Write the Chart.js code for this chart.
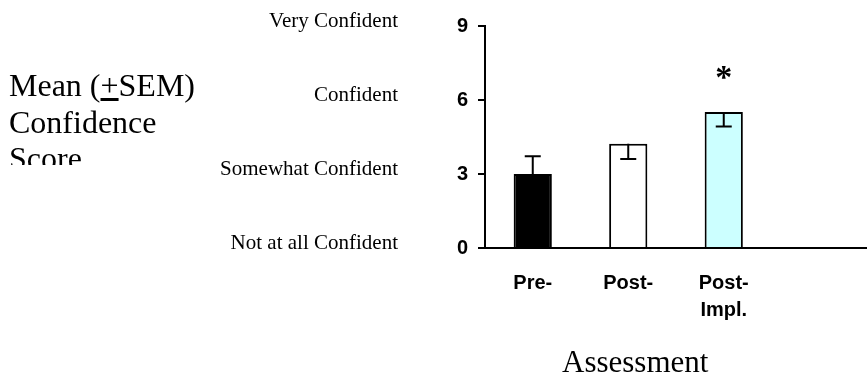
<!DOCTYPE html>
<html>
<head>
<meta charset="utf-8">
<script src="https://cdn.jsdelivr.net/npm/chart.js@4"></script>
<style>
    html, body { margin: 0; padding: 0; background: #ffffff; }
    #wrap { position: relative; width: 867px; height: 378px; }
    #yTitle {
        position: absolute; left: 9px; top: 67px; width: 230px; height: 98px;
        overflow: hidden; font-family: "Liberation Serif", "Times New Roman", serif;
        font-size: 32px; line-height: 36.5px; color: #000;
    }
    #xTitle {
        position: absolute; left: 562px; top: 346px;
        font-family: "Liberation Serif", "Times New Roman", serif;
        font-size: 31px; line-height: 31px; color: #000; white-space: nowrap;
    }
</style>
</head>
<body>
<div id="wrap">
    <canvas id="chart"></canvas>
    <div id="yTitle">Mean (<u>+</u>SEM)<br>Confidence<br>Score</div>
    <div id="xTitle">Assessment</div>
</div>
<script>
const categories = ["Pre-", "Post-", ["Post-", "Impl."], ""];
const meanScores = [3.0, 4.23, 5.51, null];
const semValues = [0.72, 0.62, 0.58, null];
const semDirection = [1, -1, -1, 0];
const barColors = ["#000000", "#ffffff", "#ccffff", "#ffffff"];
const yTicks = [0, 3, 6, 9];
const confidenceLabels = ["Not at all Confident", "Somewhat Confident", "Confident", "Very Confident"];
const sigMarks = ["", "", "*", ""];
const sigLevel = 7.1;

const serif = '"Liberation Serif", "Times New Roman", serif';
const sans = '"Liberation Sans", Arial, sans-serif';

const extrasPlugin = {
    id: "extras",
    afterDatasetsDraw(chart) {
        const ctx = chart.ctx;
        const yScale = chart.scales.y;
        const bars = chart.getDatasetMeta(0).data;

        ctx.save();
        ctx.strokeStyle = "#000000";
        ctx.lineWidth = 2;
        bars.forEach((bar, i) => {
            if (meanScores[i] == null || !semDirection[i]) return;
            const yEnd = yScale.getPixelForValue(meanScores[i] + semDirection[i] * semValues[i]);
            ctx.beginPath();
            ctx.moveTo(bar.x, bar.y);
            ctx.lineTo(bar.x, yEnd);
            ctx.moveTo(bar.x - 8, yEnd);
            ctx.lineTo(bar.x + 8, yEnd);
            ctx.stroke();
        });

        ctx.fillStyle = "#000000";
        ctx.font = "bold 34px " + serif;
        ctx.textAlign = "center";
        ctx.textBaseline = "alphabetic";
        bars.forEach((bar, i) => {
            if (!sigMarks[i]) return;
            ctx.fillText(sigMarks[i], bar.x, yScale.getPixelForValue(sigLevel) + 15);
        });

        // word labels for the score scale
        ctx.font = "21px " + serif;
        ctx.textAlign = "right";
        yTicks.forEach((v, i) => {
            ctx.fillText(confidenceLabels[i], 398, yScale.getPixelForValue(v) + 1);
        });
        ctx.restore();
    }
};

new Chart(document.getElementById("chart"), {
    type: "bar",
    data: {
        labels: categories,
        datasets: [
            {
                data: meanScores,
                backgroundColor: barColors,
                borderColor: "#000000",
                borderWidth: 2,
                barPercentage: 0.4,
                categoryPercentage: 1
            }
        ]
    },
    options: {
        responsive: true,
        maintainAspectRatio: false,
        animation: false,
        layout: {
            padding: { top: 26, right: 0, bottom: 0, left: 0 }
        },
        plugins: {
            legend: { display: false },
            tooltip: { enabled: false }
        },
        scales: {
            x: {
                grid: { display: false, drawTicks: false },
                border: { display: true, color: "#000000", width: 2 },
                ticks: {
                    color: "#000000",
                    padding: 22,
                    maxRotation: 0,
                    font: { family: sans, size: 20, weight: "bold", lineHeight: 1.35 }
                },
                afterFit(scale) {
                    scale.height = 130;
                }
            },
            y: {
                min: 0,
                max: 9,
                grid: {
                    drawOnChartArea: false,
                    drawTicks: true,
                    tickLength: 7,
                    color: "#000000",
                    lineWidth: 2
                },
                border: { display: true, color: "#000000", width: 2 },
                ticks: {
                    color: "#000000",
                    padding: 10,
                    font: { family: sans, size: 20, weight: "bold" }
                },
                afterBuildTicks(scale) {
                    scale.ticks = yTicks.map((v) => ({ value: v }));
                },
                afterFit(scale) {
                    scale.width = 485;
                }
            }
        }
    },
    plugins: [extrasPlugin]
});
</script>
</body>
</html>
